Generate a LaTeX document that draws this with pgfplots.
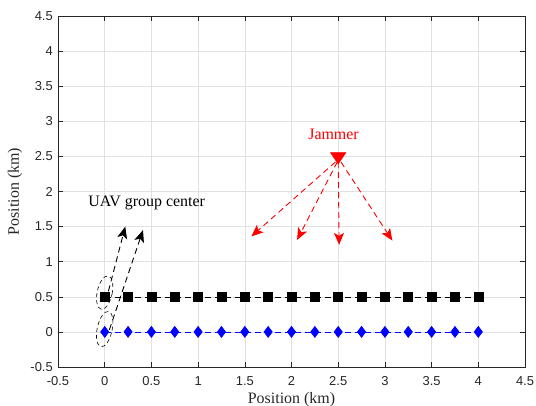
\documentclass[border=0pt]{standalone}
\usepackage{fontspec}
\setmainfont{Liberation Serif}
\newfontfamily\arialfont{Liberation Sans}
\usepackage{pgfplots}
\pgfplotsset{compat=1.18}
\usetikzlibrary{arrows.meta}
\definecolor{axgray}{RGB}{38,38,38}
\definecolor{gridgray}{RGB}{225,225,225}
\begin{document}
\begin{tikzpicture}
\useasboundingbox (-58bp,-39bp) rectangle (478bp,367bp);
\begin{axis}[
  at={(0,0)}, anchor=south west,
  scale only axis, width=467bp, height=351bp,
  xmin=-0.5, xmax=4.5, ymin=-0.5, ymax=4.5,
  xtick distance=0.5, ytick distance=0.5,
  grid=major, major grid style={gridgray, line width=0.6bp},
  axis line style={axgray, line width=0.6bp},
  tick style={axgray, line width=0.6bp},
  tick align=inside, major tick length=5bp,
  /pgf/number format/assume math mode=true,
  tick label style={font=\arialfont\fontsize{13}{13}\selectfont, text=axgray},
  xticklabel style={inner sep=0pt, anchor=north, yshift=-9bp},
  yticklabel style={inner sep=0pt, anchor=east, xshift=-5bp},
  xlabel={Position (km)}, ylabel={Position (km)},
  label style={font=\fontsize{16}{16}\selectfont, text=axgray},
  xlabel style={at={(rel axis cs:0.5,0)}, anchor=north, inner sep=0pt, yshift=-25bp},
  ylabel style={at={(rel axis cs:0,0.5)}, anchor=center, inner sep=0pt, yshift=43bp},
]
\addplot[black, dash pattern=on 6bp off 4bp, line width=0.6bp, mark=square*, mark size=4.5bp, mark options={solid, fill=black}] coordinates {
(0,0.5) (0.25,0.5) (0.5,0.5) (0.75,0.5) (1,0.5) (1.25,0.5) (1.5,0.5) (1.75,0.5) (2,0.5) (2.25,0.5) (2.5,0.5) (2.75,0.5) (3,0.5) (3.25,0.5) (3.5,0.5) (3.75,0.5) (4,0.5)
};
\addplot[blue, dash pattern=on 6bp off 4bp, line width=0.6bp, mark=diamond*, mark size=5.5bp, mark options={solid, fill=blue}] coordinates {
(0,0) (0.25,0) (0.5,0) (0.75,0) (1,0) (1.25,0) (1.5,0) (1.75,0) (2,0) (2.25,0) (2.5,0) (2.75,0) (3,0) (3.25,0) (3.5,0) (3.75,0) (4,0)
};
\addplot[red, only marks, mark=triangle*, mark size=9bp, mark options={rotate=180, fill=red, yscale=0.85}] coordinates {(2.5,2.5)};
% jammer arrows
\tikzset{ann/.style={line width=0.9bp, dash pattern=on 6bp off 4bp, -{Stealth[length=12bp, width=10bp, inset=3bp]}}}
\draw[red, ann] (axis cs:2.47,2.42) -- (axis cs:1.57,1.36);
\draw[red, ann] (axis cs:2.49,2.42) -- (axis cs:2.06,1.31);
\draw[red, ann] (axis cs:2.5,2.42) -- (axis cs:2.51,1.24);
\draw[red, ann] (axis cs:2.53,2.42) -- (axis cs:3.08,1.30);
\node[red, font=\fontsize{16}{16}\selectfont] at (axis cs:2.45,2.82) {Jammer};
% UAV group center
\node[black, font=\fontsize{16}{16}\selectfont] at (axis cs:0.45,1.84) {UAV group center};
\draw[black, ann] (axis cs:0.04,0.58) -- (axis cs:0.22,1.5);
\draw[black, ann] (axis cs:0.05,0.03) -- (axis cs:0.41,1.45);
\draw[black, line width=0.6bp, dash pattern=on 4bp off 3bp, rotate around={-12:(axis cs:0.0,0.56)}] (axis cs:0.0,0.56) ellipse [x radius=7.5bp, y radius=17bp];
\draw[black, line width=0.6bp, dash pattern=on 4bp off 3bp, rotate around={-12:(axis cs:0.0,0.04)}] (axis cs:0.0,0.04) ellipse [x radius=7.5bp, y radius=18bp];
\end{axis}
\end{tikzpicture}
\end{document}
